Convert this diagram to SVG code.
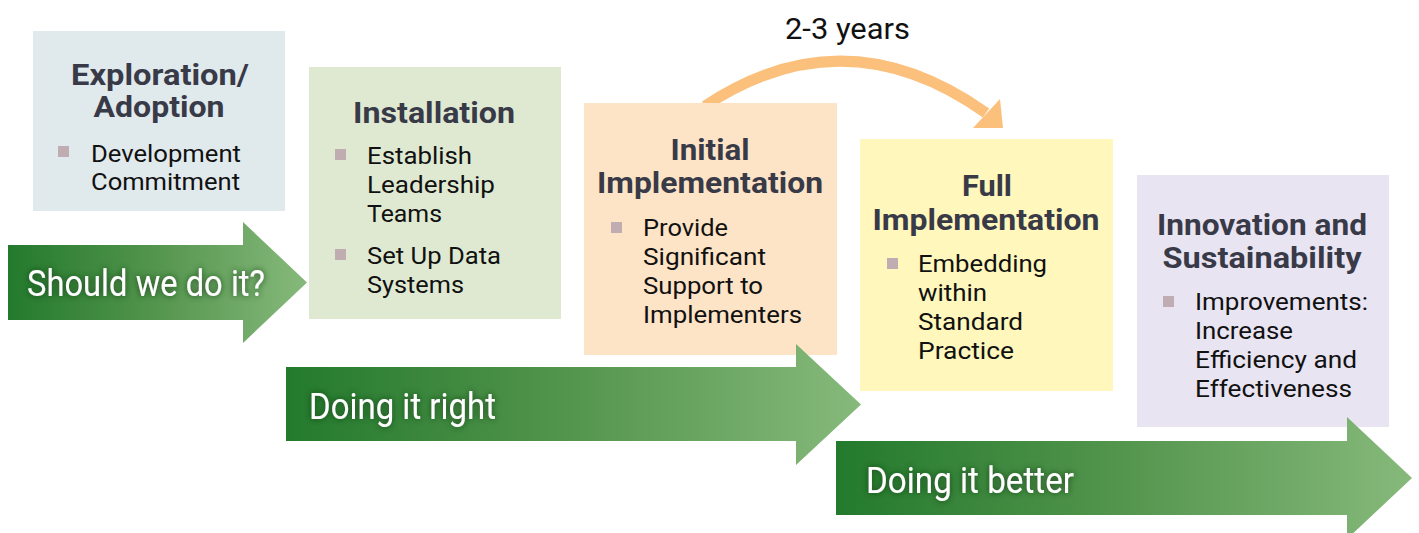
<svg xmlns="http://www.w3.org/2000/svg" width="1419" height="533" viewBox="0 0 1419 533">
<defs>
<linearGradient id="gr" x1="0" y1="0" x2="1" y2="0">
<stop offset="0" stop-color="#237a2d"/>
<stop offset="0.45" stop-color="#4f924a"/>
<stop offset="1" stop-color="#86b97b"/>
</linearGradient>
<filter id="glow" x="-10%" y="-40%" width="120%" height="180%">
<feDropShadow dx="0" dy="0" stdDeviation="3" flood-color="#123a14" flood-opacity="0.9"/>
</filter>
<style>
.ttl{font-family:Roboto,"Liberation Sans",sans-serif;font-weight:700;font-size:30px;fill:#393a48;text-anchor:middle}
.bt{font-family:Roboto,"Liberation Sans",sans-serif;font-size:24px;fill:#111}
.bl{fill:#bfadb2}
.lbl{font-family:Roboto,"Liberation Sans",sans-serif;font-size:37px;fill:#fff;filter:url(#glow)}
.yr{font-family:Roboto,"Liberation Sans",sans-serif;font-size:29px;fill:#111}
</style>
</defs>
<rect width="1419" height="533" fill="#fff"/>

<g id="connectors">
<path d="M705 106 Q845 13 986 113" fill="none" stroke="#fbc07c" stroke-width="11"/>
<polygon points="1000,99 973,128 1003,128" fill="#fbc07c"/>
<text class="yr" x="785" y="39" textLength="125" lengthAdjust="spacingAndGlyphs">2-3 years</text>
</g>

<g id="exploration">
<rect x="33" y="31" width="252" height="180" fill="#e0e9ec"/>
<text class="ttl" x="160" y="85" textLength="178" lengthAdjust="spacingAndGlyphs">Exploration/</text>
<text class="ttl" x="159" y="117" textLength="131" lengthAdjust="spacingAndGlyphs">Adoption</text>
<rect class="bl" x="58" y="146" width="11" height="11"/>
<text class="bt" x="91" y="162" textLength="150" lengthAdjust="spacingAndGlyphs">Development</text>
<text class="bt" x="91" y="190" textLength="149" lengthAdjust="spacingAndGlyphs">Commitment</text>
</g>

<g id="installation">
<rect x="309" y="67" width="252" height="252" fill="#dfe9d2"/>
<text class="ttl" x="434" y="123" textLength="162" lengthAdjust="spacingAndGlyphs">Installation</text>
<rect class="bl" x="335" y="149" width="11" height="11"/>
<text class="bt" x="367" y="164" textLength="105" lengthAdjust="spacingAndGlyphs">Establish</text>
<text class="bt" x="367" y="193" textLength="128" lengthAdjust="spacingAndGlyphs">Leadership</text>
<text class="bt" x="367" y="222" textLength="75" lengthAdjust="spacingAndGlyphs">Teams</text>
<rect class="bl" x="335" y="249" width="11" height="11"/>
<text class="bt" x="367" y="264" textLength="134" lengthAdjust="spacingAndGlyphs">Set Up Data</text>
<text class="bt" x="367" y="293" textLength="97" lengthAdjust="spacingAndGlyphs">Systems</text>
</g>

<g id="initial">
<rect x="584" y="103" width="253" height="252" fill="#fee4c6"/>
<text class="ttl" x="710" y="160" textLength="79" lengthAdjust="spacingAndGlyphs">Initial</text>
<text class="ttl" x="710" y="193" textLength="226" lengthAdjust="spacingAndGlyphs">Implementation</text>
<rect class="bl" x="611" y="222" width="11" height="11"/>
<text class="bt" x="643" y="236" textLength="85" lengthAdjust="spacingAndGlyphs">Provide</text>
<text class="bt" x="643" y="265" textLength="123" lengthAdjust="spacingAndGlyphs">Significant</text>
<text class="bt" x="643" y="294" textLength="120" lengthAdjust="spacingAndGlyphs">Support to</text>
<text class="bt" x="643" y="323" textLength="159" lengthAdjust="spacingAndGlyphs">Implementers</text>
</g>

<g id="full">
<rect x="860" y="139" width="253" height="252" fill="#fff7bc"/>
<text class="ttl" x="987" y="196" textLength="50" lengthAdjust="spacingAndGlyphs">Full</text>
<text class="ttl" x="986" y="230" textLength="227" lengthAdjust="spacingAndGlyphs">Implementation</text>
<rect class="bl" x="887" y="258" width="11" height="11"/>
<text class="bt" x="918" y="272" textLength="129" lengthAdjust="spacingAndGlyphs">Embedding</text>
<text class="bt" x="918" y="301" textLength="69" lengthAdjust="spacingAndGlyphs">within</text>
<text class="bt" x="918" y="330" textLength="105" lengthAdjust="spacingAndGlyphs">Standard</text>
<text class="bt" x="918" y="359" textLength="96" lengthAdjust="spacingAndGlyphs">Practice</text>
</g>

<g id="innovation">
<rect x="1137" y="175" width="252" height="252" fill="#e9e4f2"/>
<text class="ttl" x="1262" y="235" textLength="210" lengthAdjust="spacingAndGlyphs">Innovation and</text>
<text class="ttl" x="1262" y="268" textLength="199" lengthAdjust="spacingAndGlyphs">Sustainability</text>
<rect class="bl" x="1163" y="296" width="11" height="11"/>
<text class="bt" x="1195" y="310" textLength="173" lengthAdjust="spacingAndGlyphs">Improvements:</text>
<text class="bt" x="1195" y="339" textLength="98" lengthAdjust="spacingAndGlyphs">Increase</text>
<text class="bt" x="1195" y="368" textLength="162" lengthAdjust="spacingAndGlyphs">Efficiency and</text>
<text class="bt" x="1195" y="397" textLength="157" lengthAdjust="spacingAndGlyphs">Effectiveness</text>
</g>

<g id="arrow-should">
<path d="M8 245 H243 V222 L307 282.5 L243 343 V320 H8 Z" fill="url(#gr)"/>
<text class="lbl" x="27" y="296" textLength="238" lengthAdjust="spacingAndGlyphs">Should we do it?</text>
</g>

<g id="arrow-right">
<path d="M286 367 H796 V344 L861 404.5 L796 465 V441 H286 Z" fill="url(#gr)"/>
<text class="lbl" x="309" y="419" textLength="187" lengthAdjust="spacingAndGlyphs">Doing it right</text>
</g>

<g id="arrow-better">
<path d="M836 441 H1347 V417 L1412 478 L1347 539 V515 H836 Z" fill="url(#gr)"/>
<text class="lbl" x="866" y="493" textLength="208" lengthAdjust="spacingAndGlyphs">Doing it better</text>
</g>
</svg>
